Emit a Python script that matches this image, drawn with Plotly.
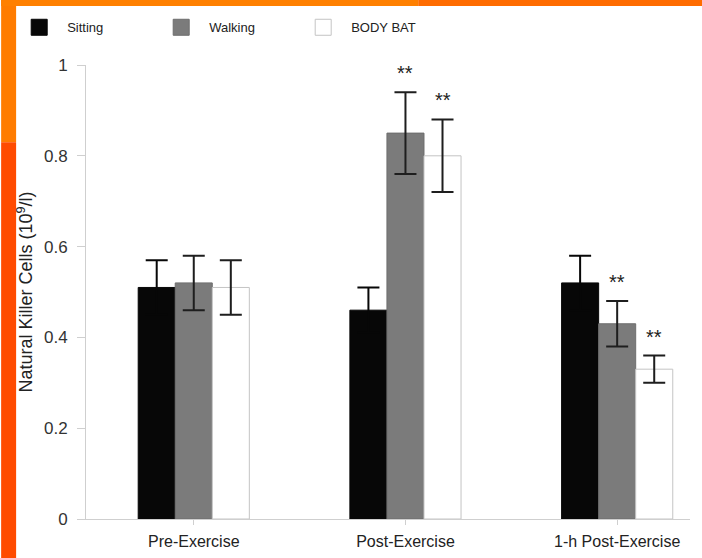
import plotly.graph_objects as go

# Natural killer cell counts by exercise condition and time point
time_points = ["Pre-Exercise", "Post-Exercise", "1-h Post-Exercise"]
groups = ["Sitting", "Walking", "BODY BAT"]

sitting = [0.51, 0.46, 0.52]
sitting_err = [0.06, 0.05, 0.06]
walking = [0.52, 0.85, 0.43]
walking_err = [0.06, 0.09, 0.05]
body_bat = [0.51, 0.80, 0.33]
body_bat_err = [0.06, 0.08, 0.03]

# significance markers (group, time point)
significant = [("Walking", "Post-Exercise"), ("BODY BAT", "Post-Exercise"),
               ("Walking", "1-h Post-Exercise"), ("BODY BAT", "1-h Post-Exercise")]

y_ticks = [0, 0.2, 0.4, 0.6, 0.8, 1]
y_tick_text = ["0", "0.2", "0.4", "0.6", "0.8", "1"]

# fill, outline, error-bar colour
series = {
    "Sitting": (sitting, sitting_err, "#070707", "#070707", "#070707"),
    "Walking": (walking, walking_err, "#7b7b7b", "#6e6e6e", "#1e1e1e"),
    "BODY BAT": (body_bat, body_bat_err, "#ffffff", "#c4c4c4", "#1e1e1e"),
}

FONT = "Liberation Sans, Arial, sans-serif"

fig = go.Figure()
for name in groups:
    vals, errs, fill, edge, ecol = series[name]
    fig.add_trace(go.Bar(
        name=name,
        x=time_points,
        y=vals,
        showlegend=False,
        marker=dict(color=fill, line=dict(color=edge, width=1)),
        error_y=dict(type="data", array=errs, visible=True,
                     color=ecol, thickness=2, width=11),
    ))

# legend entries with larger square swatches
for name in groups:
    _, _, fill, edge, _ = series[name]
    fig.add_trace(go.Scatter(
        name=name, x=[None], y=[None], mode="markers",
        marker=dict(symbol="square", size=16, color=fill,
                    line=dict(color=edge, width=1)),
        hoverinfo="skip",
    ))

# "**" above each significant bar's error cap
n = len(groups)
bar_w = 0.175
for g, tp in significant:
    gi = groups.index(g)
    ti = time_points.index(tp)
    vals, errs = series[g][0], series[g][1]
    fig.add_annotation(
        x=ti + (gi - (n - 1) / 2) * bar_w, y=vals[ti] + errs[ti],
        xref="x", yref="y", text="**", showarrow=False,
        yanchor="bottom", yshift=6,
        font=dict(family=FONT, size=20, color="#222222"),
    )

# orange frame along the top and left edges
frame = [
    dict(x0=-0.1405, x1=-0.1157, y0=0.83, y1=1.15, fillcolor="#ff7c00"),
    dict(x0=-0.1405, x1=-0.1157, y0=-0.09, y1=0.83, fillcolor="#ff4b00"),
    dict(x0=-0.1405, x1=0.55, y0=1.130, y1=1.15, fillcolor="#ff8000"),
    dict(x0=0.55, x1=1.03, y0=1.130, y1=1.15, fillcolor="#ff6c00"),
]
for f in frame:
    fig.add_shape(type="rect", xref="paper", yref="paper", layer="below",
                  line=dict(width=0), **f)

fig.update_layout(
    width=702, height=558,
    margin=dict(l=85, r=12, t=65, b=39),
    paper_bgcolor="white", plot_bgcolor="white",
    barmode="group", bargap=0.475, bargroupgap=0,
    font=dict(family=FONT, color="#222222"),
    showlegend=True,
    legend=dict(orientation="h", x=-0.122, y=1.083, xanchor="left", yanchor="middle",
                itemwidth=46, entrywidth=81, entrywidthmode="pixels",
                font=dict(size=13, color="#222222"), bgcolor="rgba(0,0,0,0)",
                traceorder="normal"),
)
fig.update_xaxes(
    range=[-0.509, 2.344], automargin=False,
    showline=True, linecolor="#cfcfcf", linewidth=1,
    ticks="outside", ticklen=5, tickcolor="#cfcfcf",
    tickfont=dict(size=16, color="#222222"),
    ticklabelstandoff=3,
    showgrid=False, zeroline=False,
)
fig.update_yaxes(
    range=[0, 1], automargin=False,
    tickvals=y_ticks, ticktext=y_tick_text,
    showline=True, linecolor="#cfcfcf", linewidth=1,
    ticks="outside", ticklen=8, tickcolor="#cfcfcf",
    tickfont=dict(size=17, color="#333333"),
    ticklabelstandoff=6,
    title=dict(text="Natural Killer Cells (10<sup>9</sup>/l)",
               font=dict(size=18, color="#222222"), standoff=6),
    showgrid=False, zeroline=False,
)

fig.write_html("out.html")
